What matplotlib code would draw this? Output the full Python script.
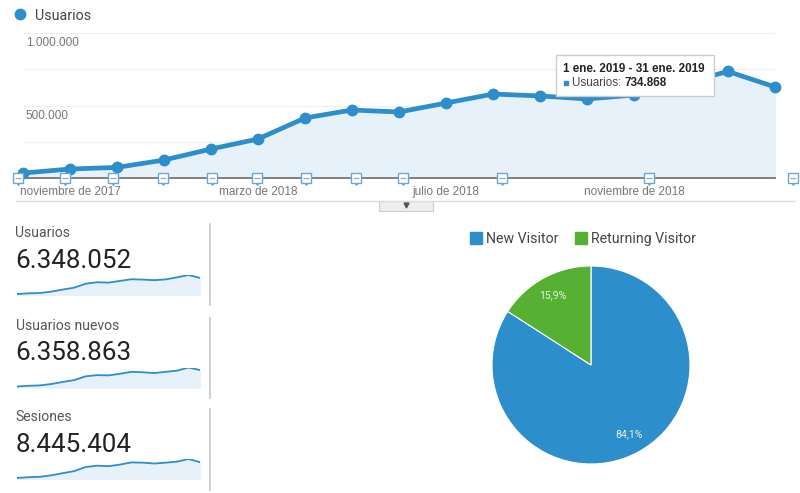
import matplotlib.pyplot as plt
import numpy as np

plt.rcParams['font.family'] = ['Roboto', 'Liberation Sans', 'DejaVu Sans']

W, H = 800, 493
AZUL = '#2c8ecb'
RELLENO = '#e6f1f9'
VERDE = '#56b031'
ARIAL = 'Liberation Sans'

# 每月用户数
meses = np.arange(17)
usuarios = [34000, 62000, 73000, 124000, 200000, 269000, 414000, 469000, 455000,
            517000, 579000, 566000, 545000, 572000, 650000, 734868, 628000]

# 迷你图的数据
mini = {
    'Usuarios': ('6.348.052', 295, usuarios),
    'Usuarios nuevos': ('6.358.863', 387.5, [36000, 64000, 76000, 128000, 204000, 272000, 410000, 455000, 445000,
                                             505000, 575000, 560000, 530000, 575000, 620000, 734868, 640000]),
    'Sesiones': ('8.445.404', 479, [38000, 66000, 80000, 135000, 215000, 290000, 440000, 490000, 470000,
                                    530000, 610000, 600000, 570000, 600000, 640000, 734868, 620000]),
}

# 像素转换为图形坐标
def caja(x0, y0, x1, y1):
    return [x0 / W, 1 - y1 / H, (x1 - x0) / W, (y1 - y0) / H]

plt.figure(figsize=(8, 4.93), dpi=100)

# 主折线图
plt.axes(caja(23, 33, 775, 178))
plt.fill_between(meses, usuarios, color=RELLENO, zorder=1)
plt.plot(meses, usuarios, color=AZUL, lw=3.4, marker='o', ms=7.5, clip_on=False, zorder=3)
plt.xlim(0, 16)
plt.ylim(0, 1000000)
plt.yticks([0, 250000, 500000, 750000, 1000000], [])
plt.xticks([1, 5, 9, 13], [])
plt.grid(axis='y', color='#eeeeee', lw=0.8)
plt.tick_params(length=0)
for lado in ['top', 'right', 'left']:
    plt.gca().spines[lado].set_visible(False)
plt.gca().spines['bottom'].set_color('#777777')
plt.gca().spines['bottom'].set_linewidth(1.3)
plt.gca().spines['bottom'].set_zorder(2)
plt.gca().set_axisbelow(True)

# 纵轴标签写在网格线下方
plt.annotate('1.000.000', (0, 1000000), xytext=(2, -3), textcoords='offset points', color='#777777',
             fontsize=8.5, va='top', family=ARIAL)
plt.annotate('500.000', (0, 500000), xytext=(2, -3), textcoords='offset points', color='#777777',
             fontsize=8.5, va='top', family=ARIAL)

# 横轴标签
for i, mes in zip([1, 5, 9, 13], ['noviembre de 2017', 'marzo de 2018', 'julio de 2018', 'noviembre de 2018']):
    plt.annotate(mes, (i, 0), xytext=(0, -5.5), textcoords='offset points', color='#777777',
                 fontsize=8.5, ha='center', va='top', family=ARIAL)

# 注释气泡
for x in [-0.1, 0.89, 1.92, 2.98, 4.02, 4.98, 6.02, 7.09, 8.08, 10.19, 13.32, 16.38]:
    plt.plot([x], [-30000], marker='v', ms=4, color='#6ba7d6', clip_on=False, zorder=4)
    plt.plot([x], [0], marker='s', ms=7, mfc='white', mec='#6ba7d6', mew=1, clip_on=False, zorder=4)
    plt.plot([x], [0], marker='_', ms=4, mew=1, color='#aaaaaa', clip_on=False, zorder=5)

# 提示框
plt.text(11.49, 755000, '1 ene. 2019 - 31 ene. 2019', fontsize=8.4, fontweight='bold', color='#222222',
         va='center', zorder=7, family=ARIAL)
plt.text(11.68, 655000, 'Usuarios: ', fontsize=8.4, color='#444444', va='center', zorder=7, family=ARIAL)
plt.text(12.8, 655000, '734.868', fontsize=8.4, fontweight='bold', color='#222222', va='center', zorder=7,
         family=ARIAL)
plt.plot([11.55], [655000], marker='s', ms=3.5, color=AZUL, zorder=7)
plt.gca().add_patch(plt.Rectangle((11.34, 565000), 3.36, 283000, fc='white', ec='#cccccc', lw=1, zorder=6))

# 主图图例
plt.axes(caja(0, 0, W, H), facecolor='none')
plt.xlim(0, W)
plt.ylim(H, 0)
plt.axis('off')
plt.plot([20], [14], marker='o', ms=7.5, color=AZUL)
plt.text(35, 16, 'Usuarios', fontsize=10.3, color='#444444', va='center')

# 下方的线和小按钮
plt.plot([16, 795], [201, 201], color='#dddddd', lw=1)
plt.gca().add_patch(plt.Rectangle((379, 201), 54, 10, fc='#eeeeee', ec='#cccccc', lw=0.8))
plt.plot([406], [205], marker='v', ms=3.5, color='#555555')

# 迷你图的分隔线
for y0, y1 in [(224, 305), (318, 398), (409, 490)]:
    plt.plot([210, 210], [y0, y1], color='#cccccc', lw=1.3)

# 迷你图
for nombre, (total, base, valores) in mini.items():
    plt.axes(caja(0, 0, W, H), facecolor='none')
    plt.xlim(0, W)
    plt.ylim(H, 0)
    plt.axis('off')
    plt.text(15.5, base - 62, nombre, fontsize=10.1, color='#555555', va='center')
    plt.text(15.5, base - 34, total, fontsize=18.7, color='#222222', va='center')
    plt.axes(caja(17, base - 20, 200, base))
    plt.fill_between(meses, valores, color=RELLENO)
    plt.plot(meses, valores, color=AZUL, lw=1.3)
    plt.xlim(0, 16)
    plt.ylim(0, 734868)
    plt.axis('off')

# 饼图
plt.axes(caja(492, 266, 690, 464))
partes, _, textos = plt.pie([84.1, 15.9], colors=[AZUL, VERDE], startangle=90, counterclock=False, radius=1,
                            autopct=lambda p: f'{p:.1f}%'.replace('.', ','), pctdistance=0.8,
                            wedgeprops={'edgecolor': 'white', 'linewidth': 0.8},
                            textprops={'color': '#e8f3e4', 'fontsize': 7.6})
plt.xlim(-1, 1)
plt.ylim(-1, 1)

# 饼图图例
plt.axes(caja(0, 0, W, H), facecolor='none')
plt.xlim(0, W)
plt.ylim(H, 0)
plt.axis('off')
plt.plot([475.5], [237.5], marker='s', ms=8, color=AZUL)
plt.text(486, 239, 'New Visitor', fontsize=10.2, color='#444444', va='center')
plt.plot([580.5], [237.5], marker='s', ms=8, color=VERDE)
plt.text(591, 239, 'Returning Visitor', fontsize=10.2, color='#444444', va='center')

plt.savefig('out.png', dpi=100)
